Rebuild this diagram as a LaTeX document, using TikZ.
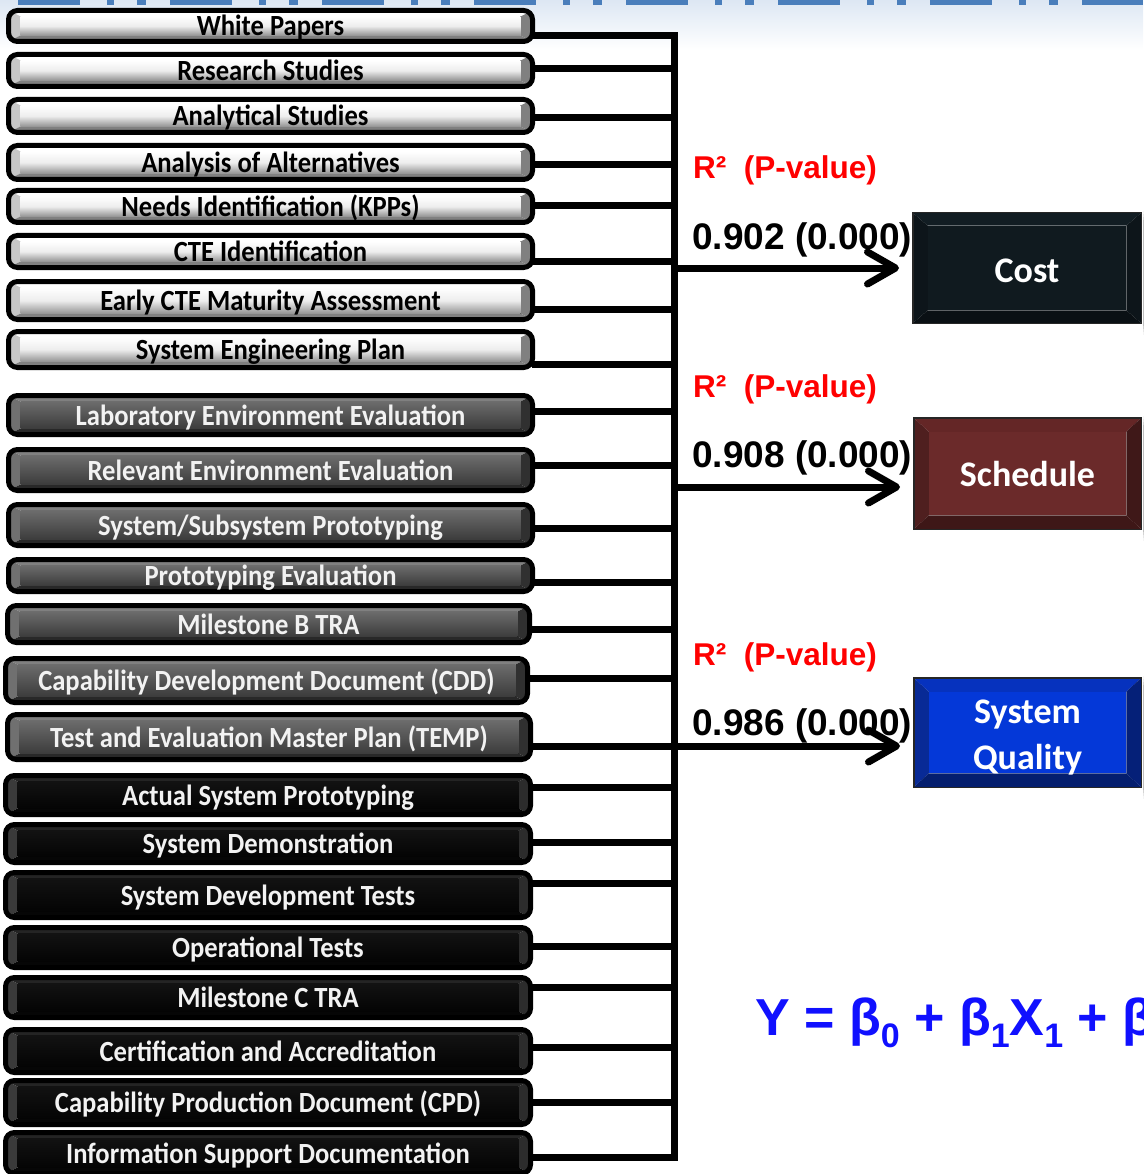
\documentclass[tikz,border=0pt]{standalone}
\usepackage{fontspec}
\usepackage{graphicx}
\usetikzlibrary{arrows.meta,calc}
\newfontfamily\boxfont{Carlito}
\newfontfamily\arialfont{Liberation Sans}
\pgfdeclarelayer{background}
\pgfsetlayers{background,main}

% palette
\definecolor{hdrblue}{RGB}{74,126,187}
\definecolor{hdrpale}{RGB}{221,231,243}
\definecolor{gfaceA}{RGB}{108,108,108}
\definecolor{gfaceB}{RGB}{60,60,60}
\definecolor{gtop}{RGB}{128,128,128}
\definecolor{gleft}{RGB}{112,112,112}
\definecolor{gright}{RGB}{48,48,48}
\definecolor{gbot}{RGB}{40,40,40}
\definecolor{kfaceA}{RGB}{18,18,18}
\definecolor{kfaceB}{RGB}{4,4,4}
\definecolor{ktop}{RGB}{36,36,36}
\definecolor{kleft}{RGB}{58,58,58}
\definecolor{kright}{RGB}{44,44,44}
\definecolor{kbot}{RGB}{6,6,6}
\definecolor{costface}{RGB}{16,26,31}
\definecolor{costtop}{RGB}{18,29,35}
\definecolor{costside}{RGB}{13,21,26}
\definecolor{costbot}{RGB}{10,16,20}
\definecolor{schface}{RGB}{107,42,42}
\definecolor{schtop}{RGB}{100,38,38}
\definecolor{schleft}{RGB}{79,31,31}
\definecolor{schright}{RGB}{63,24,24}
\definecolor{schbot}{RGB}{62,23,23}
\definecolor{sqface}{RGB}{4,56,216}
\definecolor{sqtop}{RGB}{6,50,190}
\definecolor{sqleft}{RGB}{8,42,150}
\definecolor{sqright}{RGB}{5,32,120}
\definecolor{sqbot}{RGB}{4,30,110}
\definecolor{eqblue}{RGB}{16,16,255}

% bevelled face inside a node: face, top, left, right, bottom, bevel x, bevel y
\newcommand\bevelpic[7]{%
  \begin{scope}[sharp corners]
  \path (path picture bounding box.north west) coordinate (q1)
        (path picture bounding box.north east) coordinate (q2)
        (path picture bounding box.south east) coordinate (q3)
        (path picture bounding box.south west) coordinate (q4);
  \path ($(q1)+(#6,-#7)$) coordinate (i1) ($(q2)+(-#6,-#7)$) coordinate (i2)
        ($(q3)+(-#6,#7)$) coordinate (i3) ($(q4)+(#6,#7)$) coordinate (i4);
  \fill[#2] (q1)--(q2)--(i2)--(i1)--cycle;
  \fill[#3] (q1)--(i1)--(i4)--(q4)--cycle;
  \fill[#4] (q2)--(q3)--(i3)--(i2)--cycle;
  \fill[#5] (q4)--(i4)--(i3)--(q3)--cycle;
  \fill[#1] (i1) rectangle (i3);
  \end{scope}}

% left-column box: style, name, left, top, right, bottom, text
\newcommand\colbox[7]{%
  \node[#1, minimum width={#5-#3-5}, minimum height={#6-#4-5}]
    (#2) at ({(#3+#5)/2},{(#4+#6)/2}) {\scalebox{1}[1.1]{#7}};}

% shift a label down without changing the box it occupies
\newcommand\dropby[2]{\raisebox{-#1}[\height][\depth]{#2}}

\newcommand\eqsub[1]{\raisebox{-12pt}{\fontsize{34}{34}\selectfont #1}}

\tikzset{
  lbox/.style={draw=black, line width=5pt, rounded corners=9pt, inner sep=0pt,
    font=\boxfont\bfseries\fontsize{26.6}{28}\selectfont, text height=22pt, text depth=2pt},
  wbox/.style={lbox, text=black, path picture={\bevelpic{top color=white, bottom color=black!42, middle color=white!93!black}{white}{black!22}{black!50}{black!50}{12pt}{6pt}}},
  gbox/.style={lbox, text=white!95!black, path picture={\bevelpic{top color=gfaceA, bottom color=gfaceB}{gtop}{gleft}{gright}{gbot}{12pt}{6pt}}},
  kbox/.style={lbox, text=white!95!black, path picture={\bevelpic{top color=kfaceA, bottom color=kfaceB}{ktop}{kleft}{kright}{kbot}{12pt}{6pt}}},
  conn/.style={line width=7pt, line cap=rect},
  tolink/.style={line width=7pt, -{Straight Barb[length=28pt,width=32pt,round]}, shorten >=13pt},
  rbox/.style={draw=black!85, line width=1.5pt, inner sep=0pt, text=white, align=center,
    font=\boxfont\bfseries\fontsize{36}{46}\selectfont},
  rlab/.style={inner sep=0pt, anchor=base west, text=red, font=\arialfont\bfseries\fontsize{31.5}{31.5}\selectfont},
  vlab/.style={inner sep=0pt, anchor=base west, text=black, font=\arialfont\bfseries\fontsize{37}{37}\selectfont},
  eqn/.style={inner sep=0pt, anchor=base west, text=eqblue, font=\arialfont\bfseries\fontsize{52}{52}\selectfont},
}

\begin{document}
\begin{tikzpicture}[x=1pt, y=-1pt]
\useasboundingbox (0,0) rectangle (1143,1174);
\fill[white] (0,0) rectangle (1143,1174);
\clip (0,0) rectangle (1143,1174);

% header strip
\fill[top color=hdrpale, bottom color=white] (0,0) rectangle (1143,50);
\draw[hdrblue, line width=5pt, dash pattern=on 62pt off 27pt on 7pt off 23pt on 9pt off 24pt]
  (18,2.5) -- (1143,2.5);

% inputs
\colbox{wbox}{n1}{6}{8}{535}{44}{White Papers}
\colbox{wbox}{n2}{6}{52}{535}{89}{Research Studies}
\colbox{wbox}{n3}{6}{97}{535}{135}{Analytical Studies}
\colbox{wbox}{n4}{6}{143}{535}{182}{Analysis of Alternatives}
\colbox{wbox}{n5}{6}{188}{535}{225}{Needs Identification (KPPs)}
\colbox{wbox}{n6}{6}{233}{535}{270}{CTE Identification}
\colbox{wbox}{n7}{6}{279}{535}{322}{Early CTE Maturity Assessment}
\colbox{wbox}{n8}{6}{329}{535}{370}{System Engineering Plan}
\colbox{gbox}{n9}{6}{393}{535}{437}{Laboratory Environment Evaluation}
\colbox{gbox}{n10}{6}{447}{535}{493}{Relevant Environment Evaluation}
\colbox{gbox}{n11}{6}{502}{535}{548}{System/Subsystem Prototyping}
\colbox{gbox}{n12}{6}{557}{535}{594}{Prototyping Evaluation}
\colbox{gbox}{n13}{5}{603}{532}{645}{Milestone B TRA}
\colbox{gbox}{n14}{3}{656}{530}{705}{Capability Development Document (CDD)}
\colbox{gbox}{n15}{5}{712}{533}{762}{Test and Evaluation Master Plan (TEMP)}
\colbox{kbox}{n16}{3}{773}{533}{817}{Actual System Prototyping}
\colbox{kbox}{n17}{3}{822}{533}{865}{System Demonstration}
\colbox{kbox}{n18}{3}{870}{533}{920}{System Development Tests}
\colbox{kbox}{n19}{3}{925}{533}{970}{Operational Tests}
\colbox{kbox}{n20}{3}{975}{533}{1020}{Milestone C TRA}
\colbox{kbox}{n21}{3}{1027}{533}{1075}{Certification and Accreditation}
\colbox{kbox}{n22}{3}{1078}{533}{1127}{Capability Production Document (CPD)}
\colbox{kbox}{n23}{3}{1130}{533}{1176}{Information Support Documentation}

% collecting bus and its taps
\coordinate (bt) at (674,36);
\coordinate (bb) at (674,1157);
\foreach \i/\yy in {1/36,2/69,3/118,4/165,5/206,6/261,7/309,8/364,9/411,10/465,11/528,12/582,
                     13/629,14/678,15/746,16/787,17/842,18/883,19/946,20/987,21/1047,22/1102,23/1157}{
  \coordinate (t\i) at (674,\yy);
  \draw[conn] (n\i.east |- t\i) -- (t\i);
}
\draw[conn] (bt) -- (bb);

% outcomes
\node[rbox, minimum width=228.5, minimum height=110.5,
  path picture={\bevelpic{costface}{costtop}{costside}{costside}{costbot}{15pt}{13pt}}]
  (cost) at (1027,268) {\dropby{3pt}{Cost}};
\node[rbox, minimum width=227.5, minimum height=111.5,
  path picture={\bevelpic{schface}{schtop}{schleft}{schright}{schbot}{15pt}{14pt}}]
  (sched) at (1027.5,473.5) {Schedule};
\node[rbox, minimum width=227.5, minimum height=109.5,
  path picture={\bevelpic{sqface}{sqtop}{sqleft}{sqright}{sqbot}{15pt}{14pt}}]
  (sq) at (1027.5,732.5) {\dropby{5pt}{\begin{tabular}{@{}c@{}}System\\Quality\end{tabular}}};

% soft shadows under the outcome boxes
\begin{pgfonlayer}{background}
\foreach \n in {cost,sched,sq}{
  \foreach \g/\o in {0/0.10,3/0.08,6/0.06,9/0.04}{
    \fill[black, opacity=\o] ($(\n.south west)+(6-\g,2+\g)$) rectangle ($(\n.north east)+(8+\g,8-\g)$);
  }
}
\end{pgfonlayer}

% arrows from the bus
\coordinate (a1) at (674,268);
\coordinate (a2) at (674,487);
\coordinate (a3) at (674,746);
\draw[tolink] (a1) -- (cost.west |- a1);
\draw[tolink] (a2) -- (sched.west |- a2);
\draw[tolink] (a3) -- (sq.west |- a3);

% regression statistics
\node[rlab] (r1) at (693,179) {R²\ \ (P-value)};
\node[vlab] (v1) at (692,249) {0.902 (0.000)};
\node[rlab] (r2) at (693,397) {R²\ \ (P-value)};
\node[vlab] (v2) at (692,467) {0.908 (0.000)};
\node[rlab] (r3) at (693,665) {R²\ \ (P-value)};
\node[vlab] (v3) at (692,735) {0.986 (0.000)};

% model equation
\node[eqn] (model) at (755,1035) {Y = β\eqsub{0} + β\eqsub{1}X\eqsub{1} + β};
\end{tikzpicture}
\end{document}
